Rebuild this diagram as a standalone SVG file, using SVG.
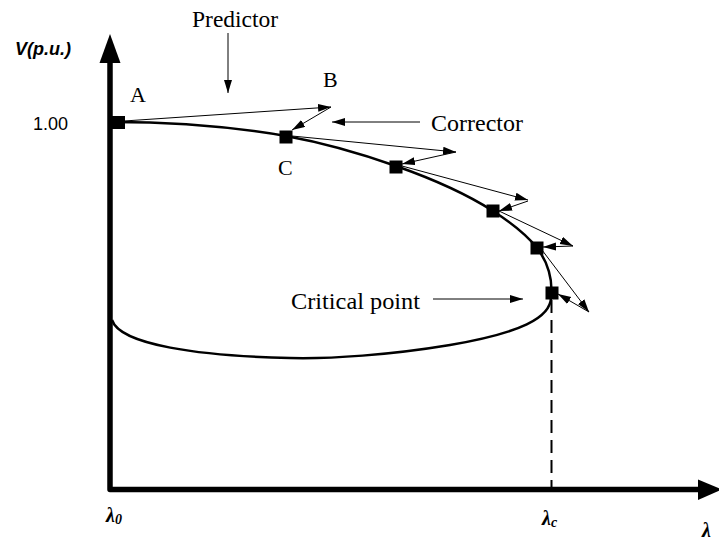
<svg xmlns="http://www.w3.org/2000/svg" width="719" height="542" viewBox="0 0 719 542">
<defs>
<style>
.serif{font-family:"Liberation Serif","Times New Roman",serif;fill:#000}
.sans{font-family:"Liberation Sans",Arial,sans-serif;fill:#000}
.thin{stroke:#000;stroke-width:1;fill:none}
.axis{stroke:#000;stroke-width:5.5;fill:none;stroke-linejoin:round}
.curve{stroke:#000;stroke-width:2.5;fill:none}
.pt{fill:#000}
.lam{font-family:"Liberation Serif","Times New Roman",serif;font-weight:bold;font-style:italic;fill:#000}
</style>
<marker id="ah" markerUnits="userSpaceOnUse" markerWidth="14" markerHeight="9" refX="13" refY="4" orient="auto">
<path d="M0,0 L13,4 L0,8 Z" fill="#000"/>
</marker>
</defs>
<g id="axes">
<path class="axis" d="M110,60 L110,489.5 L700,489.5"/>
<path d="M110,34 L120.5,63 L99.5,63 Z" fill="#000"/>
<path d="M722,489.5 L698,479.5 L698,500 Z" fill="#000"/>
<line x1="551.5" y1="300" x2="551.5" y2="487" stroke="#000" stroke-width="2" stroke-dasharray="13,7"/>
</g>
<g id="curve">
<path class="curve" d="M112,122 C180,122 240,128 286,136 C330,144 362,154 396,166 C430,178 465,193 493,211 C510,222 526,234 537,248 C548,262 553,280 551,297 C551,318 520,333 450,345 C390,355 330,359 290,358 C200,356 120,345 112,320"/>
</g>
<g id="connectors">
<line class="thin" x1="124" y1="121" x2="331" y2="107" marker-end="url(#ah)"/>
<line class="thin" x1="331" y1="107" x2="292" y2="130" marker-end="url(#ah)"/>
<line class="thin" x1="292" y1="136" x2="456" y2="152" marker-end="url(#ah)"/>
<line class="thin" x1="456" y1="152" x2="402" y2="164" marker-end="url(#ah)"/>
<line class="thin" x1="402" y1="166" x2="528" y2="200" marker-end="url(#ah)"/>
<line class="thin" x1="528" y1="201" x2="499" y2="211" marker-end="url(#ah)"/>
<line class="thin" x1="499" y1="211" x2="573" y2="246" marker-end="url(#ah)"/>
<line class="thin" x1="573" y1="246" x2="543" y2="247" marker-end="url(#ah)"/>
<line class="thin" x1="542" y1="250" x2="589" y2="312" marker-end="url(#ah)"/>
<line class="thin" x1="589" y1="312" x2="558" y2="294" marker-end="url(#ah)"/>
<line class="thin" x1="228" y1="33" x2="228" y2="93" marker-end="url(#ah)"/>
<line class="thin" x1="420" y1="122" x2="332" y2="122" marker-end="url(#ah)"/>
<line class="thin" x1="433" y1="299" x2="523" y2="299" marker-end="url(#ah)"/>
</g>
<g id="point-A"><rect class="pt" x="112" y="116" width="13" height="13"/><text class="serif" x="130" y="102" font-size="22">A</text></g>
<g id="point-B"><text class="serif" x="323" y="87" font-size="22">B</text></g>
<g id="point-C"><rect class="pt" x="279.5" y="130.5" width="13" height="13"/><text class="serif" x="278" y="175" font-size="22">C</text></g>
<g id="point-3"><rect class="pt" x="389.5" y="160.5" width="13" height="13"/></g>
<g id="point-4"><rect class="pt" x="486.5" y="204.5" width="13" height="13"/></g>
<g id="point-5"><rect class="pt" x="530.5" y="241.5" width="13" height="13"/></g>
<g id="point-critical"><rect class="pt" x="545.5" y="286.5" width="13" height="13"/></g>
<g id="labels">
<text class="serif" x="192" y="27" font-size="23.5">Predictor</text>
<text class="serif" x="431" y="131" font-size="24">Corrector</text>
<text class="serif" x="291" y="309" font-size="24" textLength="129" lengthAdjust="spacingAndGlyphs">Critical point</text>
<text class="sans" x="15" y="55" font-size="18" font-weight="bold" font-style="italic">V(p.u.)</text>
<text class="sans" x="33" y="130" font-size="18">1.00</text>
<text class="lam" x="106" y="522" font-size="20">λ<tspan font-size="14" dy="2">0</tspan></text>
<text class="lam" x="542" y="525" font-size="20">λ<tspan font-size="14" dy="2">c</tspan></text>
<text class="lam" x="702" y="537" font-size="20">λ</text>
</g>
</svg>
